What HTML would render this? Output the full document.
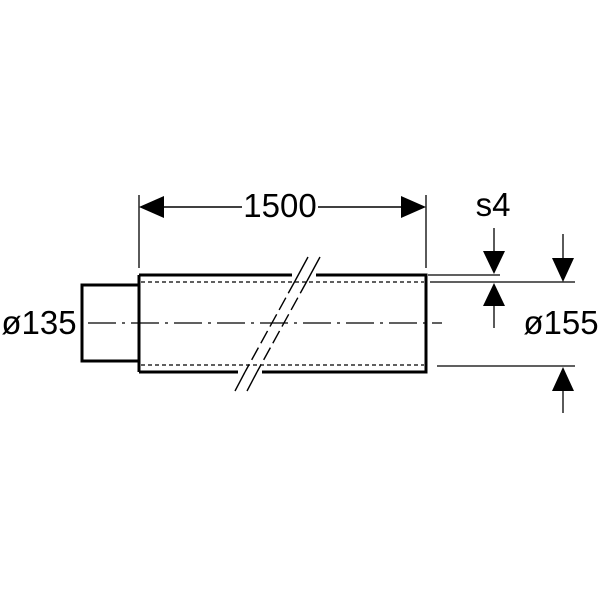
<!DOCTYPE html>
<html><head><style>body{margin:0;background:#fff}svg{display:block}</style></head>
<body>
<svg width="600" height="600" viewBox="0 0 600 600" xmlns="http://www.w3.org/2000/svg" font-family="Liberation Sans, sans-serif">
<rect width="600" height="600" fill="#fff"/>
<g stroke="#000" fill="none">
 <rect x="82" y="285" width="57" height="76" stroke-width="3"/>
 <path d="M139 275 H292 M316 275 H426 V372 H262 M238 372 H139 Z" stroke-width="3" stroke-linejoin="miter"/>
 <line x1="139" y1="275" x2="139" y2="372" stroke-width="3"/>
 <line x1="141" y1="282" x2="424" y2="282" stroke-width="1.2" stroke-dasharray="4,3"/>
 <line x1="141" y1="365" x2="424" y2="365" stroke-width="1.2" stroke-dasharray="4,3"/>
 <line x1="88" y1="323" x2="442" y2="323" stroke-width="1.3" stroke-dasharray="28,6,3,6"/>
 <line x1="308" y1="257" x2="295" y2="281" stroke-width="1.4"/>
 <line x1="320" y1="257" x2="307" y2="281" stroke-width="1.4"/>
 <line x1="295" y1="281" x2="245" y2="372" stroke-width="1.4" stroke-dasharray="14,5"/>
 <line x1="307" y1="281" x2="257" y2="372" stroke-width="1.4" stroke-dasharray="14,5"/>
 <line x1="245" y1="372" x2="235" y2="391" stroke-width="1.4"/>
 <line x1="257" y1="372" x2="247" y2="391" stroke-width="1.4"/>
 <line x1="139" y1="195" x2="139" y2="268" stroke-width="1.3"/>
 <line x1="426" y1="195" x2="426" y2="268" stroke-width="1.3"/>
 <line x1="160" y1="207" x2="242" y2="207" stroke-width="1.4"/>
 <line x1="318" y1="207" x2="405" y2="207" stroke-width="1.4"/>
 <line x1="428" y1="275" x2="500" y2="275" stroke-width="1.3"/>
 <line x1="430" y1="282" x2="575" y2="282" stroke-width="1.3"/>
 <line x1="437" y1="366" x2="575" y2="366" stroke-width="1.3"/>
 <line x1="494" y1="228" x2="494" y2="255" stroke-width="1.3"/>
 <line x1="494" y1="300" x2="494" y2="328" stroke-width="1.3"/>
 <line x1="563" y1="234" x2="563" y2="260" stroke-width="1.3"/>
 <line x1="563" y1="388" x2="563" y2="413" stroke-width="1.3"/>
</g>
<g fill="#000">
 <polygon points="139,207 164,196 164,218"/>
 <polygon points="426,207 401,196 401,218"/>
 <polygon points="494,274 483,251 505,251"/>
 <polygon points="494,283 483,306 505,306"/>
 <polygon points="563,282 552,258 574,258"/>
 <polygon points="563,367 552,391 574,391"/>
</g>
<g font-size="33" fill="#000" text-anchor="middle">
 <text x="280" y="217">1500</text>
 <text x="493" y="216">s4</text>
 <text x="561" y="334">ø155</text>
 <text x="39" y="334">ø135</text>
</g>
</svg>
</body></html>
